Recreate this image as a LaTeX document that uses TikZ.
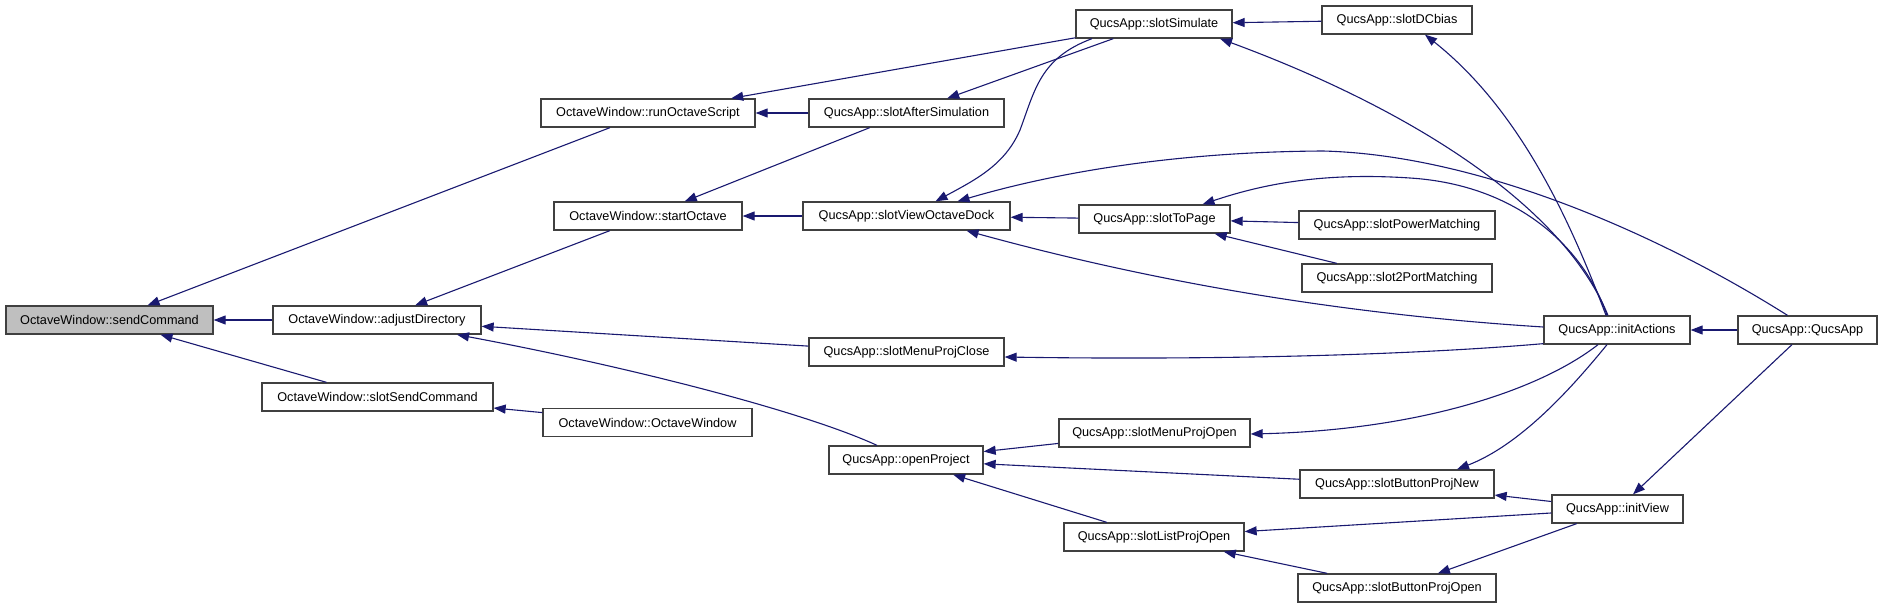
\documentclass[tikz,border=0pt]{standalone}
\usepackage{fontspec}
\setmainfont{Liberation Sans}
\usetikzlibrary{arrows.meta}
\definecolor{edgec}{HTML}{191970}
\definecolor{boxc}{HTML}{404040}
\definecolor{selc}{HTML}{BFBFBF}
\begin{document}
\begin{tikzpicture}[x=1pt,y=-1pt,
  box/.style={draw=boxc, line width=1.3pt, fill=white, minimum height=28pt, inner sep=0pt, font=\fontsize{12.7}{15}\selectfont},
  conn/.style={draw=edgec, line width=1.1pt, {Triangle[length=12pt,width=9pt]}-}]
\useasboundingbox (0,0) rectangle (1883,608);
% nodes
\node[box, fill=selc, minimum width=207pt] (sc) at (109.5,320) {OctaveWindow::sendCommand};
\node[box, minimum width=208pt] (ad) at (377,320) {OctaveWindow::adjustDirectory};
\node[box, minimum width=231pt] (ssc) at (377.5,397) {OctaveWindow::slotSendCommand};
\node[box, minimum width=209pt] (ow) at (647.5,422.5) {OctaveWindow::OctaveWindow};
\node[box, minimum width=214pt] (ros) at (648,113) {OctaveWindow::runOctaveScript};
\node[box, minimum width=188pt] (so) at (648,216) {OctaveWindow::startOctave};
\node[box, minimum width=195pt] (sas) at (906.5,113) {QucsApp::slotAfterSimulation};
\node[box, minimum width=207pt] (svod) at (906.5,216) {QucsApp::slotViewOctaveDock};
\node[box, minimum width=195pt] (smpc) at (906.5,352) {QucsApp::slotMenuProjClose};
\node[box, minimum width=154pt] (op) at (906,460) {QucsApp::openProject};
\node[box, minimum width=156pt] (ss) at (1154,24) {QucsApp::slotSimulate};
\node[box, minimum width=151pt] (stp) at (1154.5,219) {QucsApp::slotToPage};
\node[box, minimum width=191pt] (smpo) at (1154.5,433) {QucsApp::slotMenuProjOpen};
\node[box, minimum width=180pt] (slpo) at (1154,537) {QucsApp::slotListProjOpen};
\node[box, minimum width=150pt] (dc) at (1397,20) {QucsApp::slotDCbias};
\node[box, minimum width=196pt] (spm) at (1397,225) {QucsApp::slotPowerMatching};
\node[box, minimum width=190pt] (s2p) at (1397,278) {QucsApp::slot2PortMatching};
\node[box, minimum width=194pt] (sbpn) at (1397,484) {QucsApp::slotButtonProjNew};
\node[box, minimum width=198pt] (sbpo) at (1397,588) {QucsApp::slotButtonProjOpen};
\node[box, minimum width=146pt] (ia) at (1617,330) {QucsApp::initActions};
\node[box, minimum width=139pt] (qa) at (1807.5,330) {QucsApp::QucsApp};
\node[box, minimum width=131pt] (iv) at (1617.5,509) {QucsApp::initView};
% straight connectors
\draw[conn] (sc) -- (ros);
\draw[conn] (sc) -- (ad);
\draw[conn] (sc) -- (ssc);
\draw[conn] (ad) -- (so);
\draw[conn] (ad) -- (smpc);
\draw[conn] (ssc) -- (ow);
\draw[conn] (ros) -- (sas);
\draw[conn] (ros) -- (ss);
\draw[conn] (so) -- (sas);
\draw[conn] (so) -- (svod);
\draw[conn] (sas) -- (ss);
\draw[conn] (svod) -- (stp);
\draw[conn] (ss) -- (dc);
\draw[conn] (stp) -- (spm);
\draw[conn] (stp) -- (s2p);
\draw[conn] (op) -- (smpo);
\draw[conn] (op) -- (sbpn);
\draw[conn] (op) -- (slpo);
\draw[conn] (sbpn) -- (iv);
\draw[conn] (slpo) -- (iv);
\draw[conn] (slpo) -- (sbpo);
\draw[conn] (sbpo) -- (iv);
\draw[conn] (ia) -- (qa);
\draw[conn] (iv) -- (qa);
% curved connectors
\draw[conn] ([xshift=80pt]ad.south) .. controls (620,365) and (800,410) .. ([xshift=-29pt]op.north);
\draw[conn] ([xshift=29pt]svod.north) .. controls (975,180) and (1005,165) .. (1020,130) .. controls (1035,90) and (1040,58) .. ([xshift=-62pt]ss.south);
\draw[conn] ([xshift=51pt]svod.north) .. controls (1030,180) and (1150,152) .. (1323,151) .. controls (1480,155) and (1660,235) .. ([xshift=-20pt]qa.north);
\draw[conn] ([xshift=60pt]svod.south) .. controls (1200,295) and (1400,318) .. ([yshift=3pt]ia.west);
\draw[conn] ([xshift=66pt]ss.south) .. controls (1400,105) and (1560,200) .. ([xshift=-9pt]ia.north);
\draw[conn] ([xshift=28pt]dc.south) .. controls (1520,110) and (1570,220) .. ([xshift=-11pt]ia.north);
\draw[conn] ([xshift=48pt]stp.north) .. controls (1260,185) and (1320,172) .. (1410,178) .. controls (1520,185) and (1585,250) .. ([xshift=-10pt]ia.north);
\draw[conn] ([yshift=-5pt]smpc.east) .. controls (1200,360) and (1400,356) .. ([yshift=1pt]ia.south west);
\draw[conn] ([yshift=-1pt]smpo.east) .. controls (1420,430) and (1540,390) .. ([xshift=-19pt]ia.south);
\draw[conn] ([xshift=60pt]sbpn.north) .. controls (1520,445) and (1570,390) .. ([xshift=-10pt]ia.south);
\end{tikzpicture}
\end{document}
